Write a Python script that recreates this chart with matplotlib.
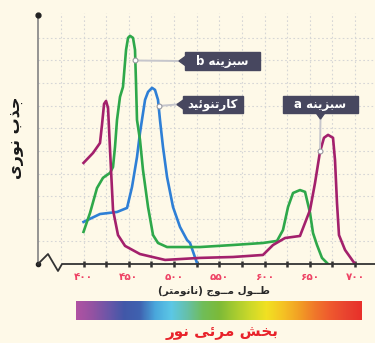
import re
import numpy as np
import matplotlib
matplotlib.use("Agg")
import matplotlib.pyplot as plt
import matplotlib.transforms as mtransforms
from matplotlib.patches import Rectangle, Polygon
from matplotlib.colors import LinearSegmentedColormap

# --- data (wavelength nm, absorbance in grid units) ---
chl_a_nm = [400, 410.5, 418.2, 420.4, 422.7, 424.9, 427.1, 429.3, 432.6, 438.1, 445.9,
            462.4, 490.1, 528.7, 565.2, 598.3, 609.4, 622.7, 639.2, 650.3, 655.8,
            661.3, 665.7, 670.2, 675.7, 677.9, 680.1, 682.3, 689.0, 700]
chl_a_abs = [4.47, 4.91, 5.35, 6.15, 7.08, 7.21, 6.90, 5.04, 2.39, 1.28, 0.80,
             0.44, 0.18, 0.27, 0.31, 0.40, 0.84, 1.15, 1.24, 2.39, 3.58,
             4.96, 5.58, 5.71, 5.58, 4.60, 2.70, 1.28, 0.62, 0.0]

chl_b_nm = [400, 407.2, 414.9, 421.5, 429.3, 432.6, 434.8, 437.0, 440.3, 443.6, 447.0,
            449.2, 451.4, 454.7, 456.9, 458.0, 459.1, 462.4, 465.7, 471.3, 476.8,
            482.3, 492.3, 528.7, 565.2, 598.3, 613.8, 620.4, 626.0, 631.5, 639.2,
            644.8, 650.3, 653.6, 658.0, 663.5, 670.2]
chl_b_abs = [1.42, 2.26, 3.36, 3.81, 4.03, 4.29, 5.18, 6.37, 7.39, 7.83, 9.47,
             10.0, 10.09, 10.0, 9.47, 8.01, 6.37, 5.49, 4.16, 2.52, 1.28,
             0.93, 0.75, 0.75, 0.84, 0.93, 1.02, 1.50, 2.52, 3.14, 3.27,
             3.19, 2.26, 1.37, 0.84, 0.27, 0.0]

car_nm = [400, 418.2, 437.0, 448.1, 453.6, 459.1, 462.4, 468.0, 471.3, 475.7, 479.0,
          482.3, 484.5, 487.8, 492.3, 498.9, 506.6, 514.4, 517.7, 525.4]
car_abs = [1.86, 2.21, 2.30, 2.48, 3.41, 4.73, 5.80, 7.26, 7.61, 7.79, 7.70,
           7.26, 6.37, 5.18, 3.85, 2.52, 1.64, 1.06, 0.93, 0.04]

tick_nm = [400, 450, 500, 550, 600, 650, 700]
tick_labels = ["۴۰۰", "۴۵۰", "۵۰۰", "۵۵۰", "۶۰۰", "۶۵۰", "۷۰۰"]

lab_a = "سبزینه a"
lab_b = "سبزینه b"
lab_car = "کارتنوئید"
ylabel = "جذب نوری"
xlabel = "طــول مــوج (نانومتر)"
spec_label = "بخش مرئی نور"

spec_colors = ["#b052a2", "#9452a2", "#6c56a8", "#4258a8", "#3f62b0", "#4aa8dc",
               "#5cc8e6", "#66c0a8", "#70bd58", "#7cba38", "#a6cb30", "#cdd92a",
               "#f1e122", "#f5c424", "#f2a224", "#f07a2a", "#ef5a2e", "#e94430", "#e8302a"]

# --- simple Persian shaping (matplotlib does not join Arabic letters) ---
FORMS = {
    "\u0627": ("\uFE8D", "\uFE8E", None, None),
    "\u0628": ("\uFE8F", "\uFE90", "\uFE91", "\uFE92"),
    "\u062A": ("\uFE95", "\uFE96", "\uFE97", "\uFE98"),
    "\u062C": ("\uFE9D", "\uFE9E", "\uFE9F", "\uFEA0"),
    "\u062E": ("\uFEA5", "\uFEA6", "\uFEA7", "\uFEA8"),
    "\u062F": ("\uFEA9", "\uFEAA", None, None),
    "\u0630": ("\uFEAB", "\uFEAC", None, None),
    "\u0631": ("\uFEAD", "\uFEAE", None, None),
    "\u0632": ("\uFEAF", "\uFEB0", None, None),
    "\u0633": ("\uFEB1", "\uFEB2", "\uFEB3", "\uFEB4"),
    "\u0634": ("\uFEB5", "\uFEB6", "\uFEB7", "\uFEB8"),
    "\u0637": ("\uFEC1", "\uFEC2", "\uFEC3", "\uFEC4"),
    "\u0644": ("\uFEDD", "\uFEDE", "\uFEDF", "\uFEE0"),
    "\u0645": ("\uFEE1", "\uFEE2", "\uFEE3", "\uFEE4"),
    "\u0646": ("\uFEE5", "\uFEE6", "\uFEE7", "\uFEE8"),
    "\u0647": ("\uFEE9", "\uFEEA", "\uFEEB", "\uFEEC"),
    "\u0648": ("\uFEED", "\uFEEE", None, None),
    "\u0626": ("\uFE89", "\uFE8A", "\uFE8B", "\uFE8C"),
    "\u06CC": ("\uFBFC", "\uFBFD", "\uFBFE", "\uFBFF"),
    "\u06A9": ("\uFB8E", "\uFB8F", "\uFB90", "\uFB91"),
    "\u0640": ("\u0640", "\u0640", "\u0640", "\u0640"),
}
MIRROR = str.maketrans("()", ")(")
LTR = r"[A-Za-z0-9\u06F0-\u06F9]"


def shape(word):
    out = []
    for i, c in enumerate(word):
        if c not in FORMS:
            out.append(c)
            continue
        f = FORMS[c]
        prev = word[i - 1] if i > 0 else ""
        nxt = word[i + 1] if i < len(word) - 1 else ""
        jp = prev in FORMS and FORMS[prev][2] is not None
        jn = f[2] is not None and nxt in FORMS
        out.append(f[3] if jp and jn else f[1] if jp else f[2] if jn else f[0])
    return "".join(out)


def rtl(text):
    runs = re.findall(LTR + "+|(?:(?!" + LTR + ").)+", shape(text))
    out = []
    for r in reversed(runs):
        out.append(r if re.match(LTR, r) else r[::-1].translate(MIRROR))
    return "".join(out)


# --- figure ---
W, H = 375, 343
bg = "#fef9e8"
fig = plt.figure(figsize=(W / 100, H / 100), dpi=100, facecolor=bg)
P = mtransforms.Affine2D().scale(1 / W, -1 / H).translate(0, 1) + fig.transFigure

x0, x1 = 349.7, 722.1
ax = fig.add_axes([38 / W, 79 / H, (W - 38) / W, 251 / H])
ax.set_facecolor(bg)
ax.set_xlim(x0, x1)
ax.set_ylim(0, 11.1)
for s in ax.spines.values():
    s.set_visible(False)

# dotted grid
for v in np.arange(375, 725, 25):
    ax.axvline(v, color="#d6d6d6", lw=0.8, ls=(0, (1.5, 2.2)), zorder=0)
for h in range(1, 11):
    ax.axhline(h, color="#d6d6d6", lw=0.8, ls=(0, (1.5, 2.2)), zorder=0)

ax.plot(car_nm, car_abs, color="#2e7fd6", lw=1.9, solid_joinstyle="round", zorder=3)
ax.plot(chl_b_nm, chl_b_abs, color="#2ea84a", lw=1.9, solid_joinstyle="round", zorder=4)
ax.plot(chl_a_nm, chl_a_abs, color="#a3206c", lw=1.9, solid_joinstyle="round", zorder=5)

ax.set_xticks(tick_nm)
ax.set_xticklabels(tick_labels, color="#ee4264", fontsize=7.5, fontweight="bold",
                   family="DejaVu Sans")
ax.set_xticks(np.arange(425, 700, 50), minor=True)
ax.tick_params(axis="x", which="both", direction="inout", length=5, width=1.8,
               color="#333333", pad=3)
ax.set_yticks([])

# axes lines, arrow-dot and zigzag break
fig.add_artist(plt.Line2D([38, 38], [264, 16], color="#8c8c8c", lw=1.3, transform=P))
fig.add_artist(plt.Line2D([38], [15], marker="o", ms=3.5, color="#222222", transform=P))
fig.add_artist(plt.Line2D([38], [264], marker="o", ms=3, color="#222222", transform=P))
fig.add_artist(plt.Line2D([38, 48, 58, 62, 375], [264, 254, 271, 264, 264],
                          color="#333333", lw=1.3, transform=P))


def to_px(x, y):
    dx, dy = ax.transData.transform((x, y))
    return dx, H - dy


def label_box(text, x, y, w, h, arrow, mark):
    fig.add_artist(Rectangle((x, y), w, h, color="#47475f", transform=P, zorder=6))
    cy = y + h / 2
    mx, my = to_px(*mark)
    if arrow == "left":
        tri = [(x - 6, cy), (x + 1, cy - 5), (x + 1, cy + 5)]
        line = ([mx, x - 6], [my, cy])
    else:
        cx = x + w / 2
        tri = [(cx, y + h + 6), (cx - 5, y + h - 1), (cx + 5, y + h - 1)]
        line = ([mx, cx], [my, y + h + 6])
    fig.add_artist(plt.Line2D(*line, color="#c6c6cc", lw=1.4, transform=P, zorder=5))
    fig.add_artist(Polygon(tri, color="#47475f", transform=P, zorder=6))
    fig.add_artist(plt.Line2D([mx], [my], marker="o", ms=3.5, mfc="white", mec="#9a9aa0",
                              mew=0.8, transform=P, zorder=7))
    fig.text((x + w / 2) / W, 1 - cy / H, rtl(text), color="white", fontsize=8.5,
             fontweight="bold", ha="center", va="center", family="DejaVu Sans", zorder=8)


label_box(lab_b, 185, 52, 75, 18, "left", (457.3, 9.0))
label_box(lab_car, 183, 96, 60, 17, "left", (482.9, 6.99))
label_box(lab_a, 283, 96, 75, 17, "down", (661.3, 4.98))

fig.text(17 / W, 1 - 138 / H, rtl(ylabel), rotation=90, fontsize=11.5, fontweight="bold",
         color="#1a1a1a", ha="center", va="center", family="DejaVu Sans")
fig.text(214 / W, 1 - 291 / H, rtl(xlabel), fontsize=7.5, fontweight="bold",
         color="#2a2a2a", ha="center", va="center", family="DejaVu Sans")

# visible spectrum bar
sax = fig.add_axes([76 / W, 1 - 320 / H, 286 / W, 19 / H])
cmap = LinearSegmentedColormap.from_list("spec", spec_colors)
sax.imshow(np.linspace(0, 1, 256)[None, :], cmap=cmap, aspect="auto")
sax.set_axis_off()

fig.text(222 / W, 1 - 332 / H, rtl(spec_label), fontsize=11, fontweight="bold",
         color="#e8222a", ha="center", va="center", family="DejaVu Sans")

fig.savefig("out.png", dpi=100, facecolor=bg)
